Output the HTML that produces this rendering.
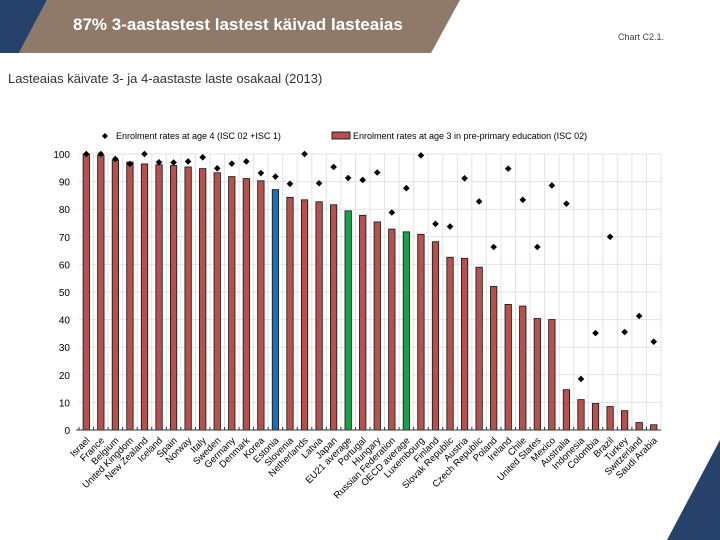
<!DOCTYPE html>
<html><head><meta charset="utf-8"><style>
html,body{margin:0;padding:0;background:#fff;width:720px;height:540px;overflow:hidden;font-family:"Liberation Sans",sans-serif}
svg{display:block}
</style></head><body>
<svg id="c" width="720" height="540" xmlns="http://www.w3.org/2000/svg">
<polygon points="0,0 47,0 19,53 0,53" fill="#26416a"/>
<polygon points="47,0 460,0 431,53 19,53" fill="#8f7a6a"/>
<polygon points="720,440 720,540 667,540" fill="#26416a"/>
<text x="73" y="30" fill="#fff" font-size="17" font-weight="bold">87%  3-aastastest lastest käivad lasteaias</text>
<text x="618" y="40" fill="#444" font-size="9">Chart C2.1.</text>
<text x="8" y="83" fill="#333" font-size="13">Lasteaias käivate 3- ja 4-aastaste laste osakaal (2013)</text>
<g>
<polygon points="105,133 108,136 105,139 102,136" fill="#000"/>
<text x="116" y="139" font-size="9" fill="#000">Enrolment rates at age 4 (ISC 02 +ISC 1)</text>
<rect x="332" y="132" width="18" height="7" fill="#b5524f" stroke="#000" stroke-width="0.8"/>
<text x="353" y="139" font-size="9" fill="#000">Enrolment rates at age 3 in pre-primary education (ISC 02)</text>
</g>
<g id="grid"></g><g id="bars"></g><g id="dots"></g><g id="axis"></g>
</svg>
<script>
const categories=["Israel","France","Belgium","United Kingdom","New Zealand","Iceland","Spain","Norway","Italy","Sweden","Germany","Denmark","Korea","Estonia","Slovenia","Netherlands","Latvia","Japan","EU21 average","Portugal","Hungary","Russian Federation","OECD average","Luxembourg","Finland","Slovak Republic","Austria","Czech Republic","Poland","Ireland","Chile","United States","Mexico","Australia","Indonesia","Colombia","Brazil","Turkey","Switzerland","Saudi Arabia"];
const age3=[100,99.5,97.8,97.1,96.4,96.1,95.8,95.3,94.7,93.2,91.8,91.1,90.3,87.1,84.3,83.4,82.7,81.6,79.4,77.8,75.4,72.8,71.8,70.9,68.2,62.6,62.2,59,52,45.5,44.9,40.4,40,14.6,11,9.6,8.5,7,2.7,1.9];
const age4=[100,100,98.2,96.4,100,97,96.9,97.3,98.8,94.8,96.5,97.3,93.1,91.8,89.2,100,89.4,95.3,91.3,90.6,93.3,78.8,87.6,99.5,74.7,73.7,91.2,82.8,66.3,94.7,83.4,66.3,88.6,82,18.5,35.1,70,35.5,41.3,32];
const yTicks=[0,10,20,30,40,50,60,70,80,90,100];
const L=79,R=661,T=154,B=430,NS="http://www.w3.org/2000/svg";
const step=(R-L)/categories.length;
const xC=i=>L+step*(i+0.5);
const y=v=>B-(B-T)*v/100;
function mk(t,a,p){const e=document.createElementNS(NS,t);for(const k in a)e.setAttribute(k,a[k]);p.appendChild(e);return e;}
const grid=document.getElementById('grid'),bars=document.getElementById('bars'),dots=document.getElementById('dots'),axis=document.getElementById('axis');
yTicks.forEach(v=>{
 const l=mk('line',{x1:L,x2:R,y1:y(v),y2:y(v),stroke:'#e3e3e3','stroke-width':1},grid);
 
 
 const t=mk('text',{x:L-9,y:y(v)+4,'text-anchor':'end','font-size':10,fill:'#000'},axis);
 t.textContent=v;
 
 
});
categories.forEach((c,i)=>{
 const gx=L+step*(i+1);
 const g=mk('line',{x1:gx,x2:gx,y1:T,y2:B,stroke:'#e3e3e3','stroke-width':1},grid);
 
 
 const col=c==="Estonia"?"#1f6db4":(c.indexOf("average")>=0?"#1aa04a":"#b5524f");
 const b=mk('rect',{x:xC(i)-3.2,y:y(age3[i]),width:6.4,height:B-y(age3[i]),fill:col,stroke:'#111','stroke-width':0.8},bars);
 
 
 const cx=xC(i),cy=y(age4[i]);
 const d=mk('polygon',{points:`${cx},${cy-3.3} ${cx+3.3},${cy} ${cx},${cy+3.3} ${cx-3.3},${cy}`,fill:'#000'},dots);
 
 
 const tk=mk('line',{x1:L+step*i,x2:L+step*i,y1:B,y2:B-3,stroke:'#333'},axis);
 
 
 const t=mk('text',{x:cx+4,y:B+11,'text-anchor':'end','font-size':9.5,fill:'#000',transform:`rotate(-45 ${cx+4} ${B+11})`},axis);
 t.textContent=c;
 
 
});
const ax=mk('line',{x1:L-3,x2:R,y1:B,y2:B,stroke:'#333','stroke-width':1},axis);


</script>
</body></html>
